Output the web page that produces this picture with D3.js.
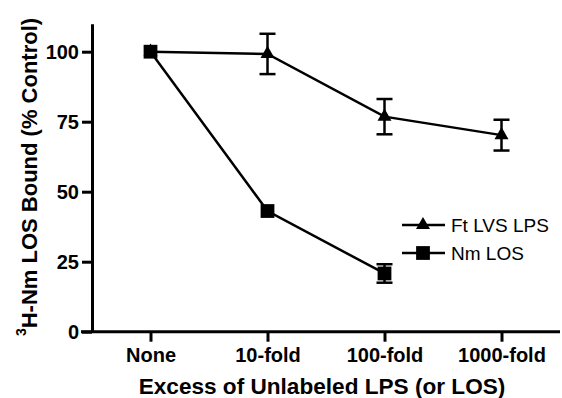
<!DOCTYPE html>
<html>
<head>
<meta charset="utf-8">
<script src="https://cdn.jsdelivr.net/npm/d3@7"></script>
<style>
  body { margin: 0; background: #fff; }
  text { font-family: "Liberation Sans", Arial, Helvetica, sans-serif; fill: #000; }
</style>
</head>
<body>
<svg id="chart" width="562" height="398"></svg>
<script>
// excess of unlabeled competitor
var categories = ["None", "10-fold", "100-fold", "1000-fold"];
var yTicks = [0, 25, 50, 75, 100];

// Ft LVS LPS (triangles)
var ftMean = [100, 99.2, 76.8, 70.2];
var ftErr = [0, 7.2, 6.3, 5.5];

// Nm LOS (squares), no 1000-fold point
var nmMean = [100, 43.1, 20.8, null];
var nmErr = [0, 0, 3.3, null];

var svg = d3.select("#chart");

var x = d3.scalePoint()
    .domain(categories)
    .range([92, 560])
    .padding(0.5);

var y = d3.scaleLinear()
    .domain([0, 110])
    .range([331.7, 23.7]);

// axes
var yAxis = svg.append("g")
    .attr("transform", "translate(92,0)")
    .call(d3.axisLeft(y).tickValues(yTicks).tickSize(10).tickSizeOuter(0).tickPadding(3));

var xAxis = svg.append("g")
    .attr("transform", "translate(0,331.7)")
    .call(d3.axisBottom(x).tickSize(10).tickSizeOuter(0).tickPadding(6));

[yAxis, xAxis].forEach(function (g) {
    g.selectAll("path, line").attr("stroke", "#000").attr("stroke-width", 3);
    g.selectAll("text")
        .style("font-size", "20px")
        .style("font-weight", "bold")
        .attr("fill", "#000");
});
// stretch x axis line back to the y tick ends
xAxis.select(".domain").attr("d", "M81,0H560");

// axis titles
svg.append("text")
    .attr("x", 322)
    .attr("y", 394)
    .attr("text-anchor", "middle")
    .style("font-size", "22.6px")
    .style("font-weight", "bold")
    .text("Excess of Unlabeled LPS (or LOS)");

var yTitle = svg.append("text")
    .attr("transform", "translate(33,177) rotate(-90)")
    .attr("text-anchor", "middle")
    .style("font-size", "22px")
    .style("font-weight", "bold");
yTitle.append("tspan").attr("dy", "-0.5em").style("font-size", "14px").text("3");
yTitle.append("tspan").attr("dy", "0.5em").text("H-Nm LOS Bound (% Control)");

function series(mean, err) {
    return categories.map(function (c, i) {
        return { cat: c, v: mean[i], e: err[i] };
    }).filter(function (d) { return d.v != null; });
}

var triangle = d3.symbol().type(d3.symbolTriangle).size(85);
var square = d3.symbol().type(d3.symbolSquare).size(190);

var line = d3.line()
    .x(function (d) { return x(d.cat); })
    .y(function (d) { return y(d.v); });

function drawSeries(data, sym) {
    var g = svg.append("g");
    g.append("path")
        .datum(data)
        .attr("d", line)
        .attr("fill", "none")
        .attr("stroke", "#000")
        .attr("stroke-width", 2.5);

    var eb = g.selectAll(".eb")
        .data(data.filter(function (d) { return d.e > 0; }))
        .enter().append("g")
        .attr("stroke", "#000")
        .attr("stroke-width", 2.5);
    eb.append("line")
        .attr("x1", function (d) { return x(d.cat); })
        .attr("x2", function (d) { return x(d.cat); })
        .attr("y1", function (d) { return y(d.v + d.e); })
        .attr("y2", function (d) { return y(d.v - d.e); });
    [1, -1].forEach(function (s) {
        eb.append("line")
            .attr("x1", function (d) { return x(d.cat) - 8; })
            .attr("x2", function (d) { return x(d.cat) + 8; })
            .attr("y1", function (d) { return y(d.v + s * d.e); })
            .attr("y2", function (d) { return y(d.v + s * d.e); });
    });

    g.selectAll(".pt")
        .data(data)
        .enter().append("path")
        .attr("d", sym)
        .attr("fill", "#000")
        .attr("transform", function (d) {
            return "translate(" + x(d.cat) + "," + y(d.v) + ")";
        });
}

drawSeries(series(ftMean, ftErr), triangle);
drawSeries(series(nmMean, nmErr), square);

// legend
var legendItems = [
    { name: "Ft LVS LPS", sym: triangle },
    { name: "Nm LOS", sym: square }
];
var legend = svg.append("g").attr("transform", "translate(402,225)");
var li = legend.selectAll("g")
    .data(legendItems)
    .enter().append("g")
    .attr("transform", function (d, i) { return "translate(0," + i * 28 + ")"; });
li.append("line")
    .attr("x1", 0).attr("x2", 43)
    .attr("stroke", "#000")
    .attr("stroke-width", 2.5);
li.append("path")
    .attr("d", function (d) { return d.sym(); })
    .attr("transform", "translate(21,0)")
    .attr("fill", "#000");
li.append("text")
    .attr("x", 49)
    .attr("y", 7)
    .style("font-size", "19px")
    .text(function (d) { return d.name; });
</script>
</body>
</html>
